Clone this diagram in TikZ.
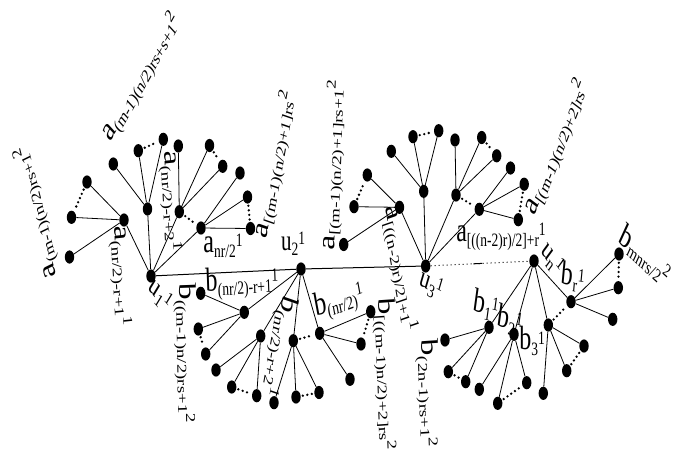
\documentclass[tikz,border=0pt]{standalone}
\usepackage{fontspec}
\setmainfont{Liberation Serif}
\usetikzlibrary{shapes.geometric,calc}
\newcommand\sbs{\fontsize{13.5}{13.5}\selectfont}
\newcommand\lt[3]{\fontsize{24}{24}\selectfont #1\raisebox{-4pt}{\sbs #2}\raisebox{4pt}{\sbs #3}}
\newcommand\ut[3]{\fontsize{21}{21}\selectfont #1\raisebox{-4pt}{\sbs #2}\raisebox{4pt}{\sbs #3}}
\newcommand\lbl[4]{\begin{scope}[shift={(#1)},yscale=1.4]\node[lab,rotate=#2] (#3) {#4};\end{scope}}
\tikzset{
  dot/.style={ellipse, fill=black, inner sep=0pt, minimum width=9.4pt, minimum height=13.2pt},
  edge/.style={line width=0.8pt},
  dots/.style={line width=2.6pt, line cap=round, dash pattern=on 0pt off 4.6pt, shorten <=2pt, shorten >=2pt},
  lab/.style={transform shape, inner sep=0pt}
}
\begin{document}
\begin{tikzpicture}[x=1pt,y=-1pt]
\useasboundingbox (0,0) rectangle (679,453);
% spine
\node[dot] (u1) at (151,276) {};
\node[dot] (u2) at (301,269) {};
\node[dot] (u3) at (425.7,266) {};
\node[dot] (un) at (534,261) {};
\draw[line width=1pt] (u1) -- (u2) -- (u3);
\draw[line width=1pt, dash pattern=on 1pt off 3pt] (u3) -- (un);
\draw[line width=1pt] ($(u3)!0.44!(un)$) -- ($(u3)!0.52!(un)$);
% u1 tree
\node[dot] (A1) at (124,220) {};
\node[dot] (A1a) at (87,182) {};
\node[dot] (A1b) at (71.5,217.3) {};
\node[dot] (A1c) at (69.5,257) {};
\node[dot] (A2) at (147.5,209) {};
\node[dot] (A2a) at (113.3,164) {};
\node[dot] (A2b) at (138.3,150.7) {};
\node[dot] (A2c) at (163.3,139.3) {};
\node[dot] (A3) at (179.3,211.7) {};
\node[dot] (A3a) at (178.3,146) {};
\node[dot] (A3b) at (209.5,145.5) {};
\node[dot] (A3c) at (222.7,166.3) {};
\node[dot] (A4) at (201,228) {};
\node[dot] (A4a) at (240,173) {};
\node[dot] (A4b) at (247.5,197) {};
\node[dot] (A4c) at (250.5,228.5) {};
\draw[edge] (u1) -- (A1) (u1) -- (A2) (u1) -- (A3) (u1) -- (A4);
\draw[edge] (A1) -- (A1a) (A1) -- (A1b) (A1) -- (A1c);
\draw[edge] (A2) -- (A2a) (A2) -- (A2b) (A2) -- (A2c);
\draw[edge] (A3) -- (A3a) (A3) -- (A3b) (A3) -- (A3c);
\draw[edge] (A4) -- (A4a) (A4) -- (A4b) (A4) -- (A4c);
\draw[dots] (A1a) -- (A1b);
\draw[dots] (A2b) -- (A2c);
\draw[dots] (A3b) -- (A3c);
\draw[dots] (A4b) -- (A4c);
\draw[dots] (A3) -- (A4);
% u2 tree
\node[dot] (C1) at (244.3,312.3) {};
\node[dot] (C1a) at (200.7,293.3) {};
\node[dot] (C1b) at (198.3,329) {};
\node[dot] (C1c) at (205.7,354) {};
\node[dot] (C2) at (260.7,336) {};
\node[dot] (C2a) at (216,370) {};
\node[dot] (C2b) at (231.7,387) {};
\node[dot] (C2c) at (256.7,395.7) {};
\node[dot] (C3) at (293.3,340.7) {};
\node[dot] (C3a) at (274,402.7) {};
\node[dot] (C3b) at (296,397) {};
\node[dot] (C3c) at (319,392.5) {};
\node[dot] (C4) at (319.7,333.3) {};
\node[dot] (C4a) at (370.7,311.7) {};
\node[dot] (C4b) at (361,344) {};
\node[dot] (C4c) at (350,379.3) {};
\draw[edge] (u2) -- (C1) (u2) -- (C2) (u2) -- (C3) (u2) -- (C4);
\draw[edge] (C1) -- (C1a) (C1) -- (C1b) (C1) -- (C1c);
\draw[edge] (C2) -- (C2a) (C2) -- (C2b) (C2) -- (C2c);
\draw[edge] (C3) -- (C3a) (C3) -- (C3b) (C3) -- (C3c);
\draw[edge] (C4) -- (C4a) (C4) -- (C4b) (C4) -- (C4c);
\draw[dots] (C1b) -- (C1c);
\draw[dots] (C2b) -- (C2c);
\draw[dots] (C3b) -- (C3c);
\draw[dots] (C4a) -- (C4b);
\draw[dots] (C3) -- (C4);
% u3 tree
\node[dot] (B1) at (399.5,207.3) {};
\node[dot] (B1a) at (343.7,244.5) {};
\node[dot] (B1b) at (354,206.7) {};
\node[dot] (B1c) at (367.3,175) {};
\node[dot] (B2) at (423.7,191.3) {};
\node[dot] (B2a) at (391.3,151.3) {};
\node[dot] (B2b) at (413,136.7) {};
\node[dot] (B2c) at (438.7,130.7) {};
\node[dot] (B3) at (456,195) {};
\node[dot] (B3a) at (455,140) {};
\node[dot] (B3b) at (481.7,137.5) {};
\node[dot] (B3c) at (496.7,155.8) {};
\node[dot] (B4) at (479.3,209.3) {};
\node[dot] (B4a) at (510.5,168) {};
\node[dot] (B4b) at (524.2,184.2) {};
\node[dot] (B4c) at (518.3,219.7) {};
\draw[edge] (u3) -- (B1) (u3) -- (B2) (u3) -- (B3) (u3) -- (B4);
\draw[edge] (B1) -- (B1a) (B1) -- (B1b) (B1) -- (B1c);
\draw[edge] (B2) -- (B2a) (B2) -- (B2b) (B2) -- (B2c);
\draw[edge] (B3) -- (B3a) (B3) -- (B3b) (B3) -- (B3c);
\draw[edge] (B4) -- (B4a) (B4) -- (B4b) (B4) -- (B4c);
\draw[dots] (B1b) -- (B1c);
\draw[dots] (B2b) -- (B2c);
\draw[dots] (B3b) -- (B3c);
\draw[dots] (B4b) -- (B4c);
\draw[dots] (B3) -- (B4);
% un tree
\node[dot] (D1) at (489,327.3) {};
\node[dot] (D1a) at (445,340) {};
\node[dot] (D1b) at (448.3,371.7) {};
\node[dot] (D1c) at (465.7,381.7) {};
\node[dot] (D2) at (514,334.3) {};
\node[dot] (D2a) at (479.3,389.3) {};
\node[dot] (D2b) at (497.7,403.3) {};
\node[dot] (D2c) at (526.7,382.7) {};
\node[dot] (D3) at (548.3,325) {};
\node[dot] (D3a) at (543.3,393.3) {};
\node[dot] (D3b) at (566.7,370.7) {};
\node[dot] (D3c) at (584,346) {};
\node[dot] (D4) at (571,301.7) {};
\node[dot] (D4a) at (619,254) {};
\node[dot] (D4b) at (618.3,287.7) {};
\node[dot] (D4c) at (612.7,319.3) {};
\draw[edge] (un) -- (D1) (un) -- (D2) (un) -- (D3) (un) -- (D4);
\draw[edge] (D1) -- (D1a) (D1) -- (D1b) (D1) -- (D1c);
\draw[edge] (D2) -- (D2a) (D2) -- (D2b) (D2) -- (D2c);
\draw[edge] (D3) -- (D3a) (D3) -- (D3b) (D3) -- (D3c);
\draw[edge] (D4) -- (D4a) (D4) -- (D4b) (D4) -- (D4c);
\draw[dots] (D1b) -- (D1c);
\draw[dots] (D2b) -- (D2c);
\draw[dots] (D3b) -- (D3c);
\draw[dots] (D4a) -- (D4b);
\draw[dots] (D3) -- (D4);
% labels
\lbl{37,212}{109.3}{l1}{\lt{a}{(m-1)(n/2)rs+1}{2}}
\lbl{142,78}{52.2}{l2}{\lt{a}{(m-1)(n/2)rs+s+1}{2}}
\lbl{170,201}{-85.8}{l3}{\lt{a}{(nr/2)-r+2}{1}}
\lbl{120,276}{-85.8}{l4}{\lt{a}{(nr/2)-r+1}{1}}
\lbl{223,246}{0}{l5}{\lt{a}{nr/2}{1}}
\lbl{276,165}{76.1}{l6}{\lt{a}{[(m-1)(n/2)+1]rs}{2}}
\lbl{334,165}{87.2}{l7}{\lt{a}{[(m-1)(n/2)+1]rs+1}{2}}
\lbl{399,269}{-76.1}{l8}{\lt{a}{[((n-2)r)/2]+1}{1}}
\lbl{501,237}{0}{l9}{\lt{a}{[((n-2)r)/2]+r}{1}}
\lbl{557,148}{61.7}{l10}{\lt{a}{[(m-1)(n/2)+2]rs}{2}}
\lbl{242,282}{2.9}{l11}{\lt{b}{(nr/2)-r+1}{1}}
\lbl{186,353}{-88.6}{l12}{\lt{b}{((m-1)n/2)rs+1}{2}}
\lbl{279,346}{-103.9}{l13}{\lt{b}{(nr/2)-r+2}{1}}
\lbl{339,301}{14.6}{l14}{\lt{b}{(nr/2)}{1}}
\lbl{386,374}{-87.2}{l15}{\lt{b}{[((m-1)n/2)+2]rs}{2}}
\lbl{428,393}{-87.2}{l16}{\lt{b}{(2n-1)rs+1}{2}}
\lbl{160,295}{-40.4}{l17}{\ut{u}{1}{1}}
\lbl{293,244}{0}{l18}{\ut{u}{2}{1}}
\lbl{431,285}{-22.4}{l19}{\ut{u}{3}{1}}
\lbl{552,259}{-45.6}{l20}{\ut{u}{n}{1}}
\lbl{573,277}{-7.2}{l21}{\lt{b}{r}{1}}
\lbl{645,255}{-32.7}{l22}{\lt{b}{mnrs/2}{2}}
\lbl{486,305}{-10.8}{l23}{\lt{b}{1}{1}}
\lbl{510,320}{-10.8}{l24}{\lt{b}{2}{1}}
\lbl{532,341}{0}{l25}{\lt{b}{3}{1}}
\end{tikzpicture}
\end{document}
